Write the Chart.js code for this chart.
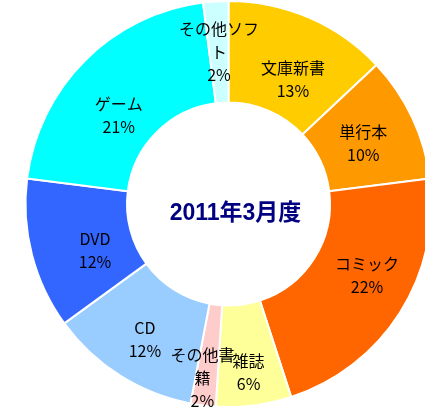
<!DOCTYPE html>
<html><head><meta charset="utf-8">
<script src="https://cdn.jsdelivr.net/npm/chart.js@4"></script>
<style>
html,body{margin:0;padding:0;background:#fff;overflow:hidden;width:425px;height:414px;}
#wrap{position:absolute;left:0;top:0;width:457px;height:408px;}
</style></head>
<body>
<div id="wrap"><canvas id="c" width="457" height="408"></canvas></div>
<script>
const categories = ['文庫新書','単行本','コミック','雑誌','その他書籍','CD','DVD','ゲーム','その他ソフト'];
const labelLines = [['文庫新書'],['単行本'],['コミック'],['雑誌'],['その他書','籍'],['CD'],['DVD'],['ゲーム'],['その他ソフ','ト']];
const shares = [13,10,22,6,2,12,12,21,2];
const colors = ['#FFCC00','#FF9900','#FF6600','#FFFF99','#FFCCCC','#99CCFF','#3366FF','#00FFFF','#CCFFFF'];
const centerTitle = '2011年3月度';

const labelPlugin = {
  id:'sliceLabels',
  afterDatasetsDraw(chart, args, opts){
    const ctx = chart.ctx;
    const meta = chart.getDatasetMeta(0);
    const nudge = opts.nudge || [];
    ctx.save();
    ctx.fillStyle = '#000';
    ctx.textAlign = 'center';
    ctx.textBaseline = 'middle';
    ctx.font = '16px "Noto Sans CJK JP", sans-serif';
    meta.data.forEach((arc,i)=>{
      const p = arc.getProps(['x','y','startAngle','endAngle','innerRadius','outerRadius'],true);
      const mid = (p.startAngle+p.endAngle)/2;
      const r = (p.innerRadius+p.outerRadius)/2;
      const n = nudge[i] || [0,0];
      const cx = p.x + Math.cos(mid)*r + n[0];
      const cy = p.y + Math.sin(mid)*r + n[1];
      const lines = labelLines[i].concat([shares[i]+'%']);
      const lh = 23;
      const top = cy - (lines.length-1)*lh/2;
      lines.forEach((t,k)=>ctx.fillText(t,cx,top+k*lh));
    });
    const a = meta.data[0];
    ctx.fillStyle = '#000080';
    ctx.font = 'bold 23px "Liberation Sans", "Noto Sans CJK JP", sans-serif';
    ctx.fillText(centerTitle, a.x+7, a.y+10);
    ctx.restore();
  }
};

new Chart(document.getElementById('c'),{
  type:'doughnut',
  data:{labels:categories,datasets:[{data:shares,backgroundColor:colors,borderColor:'#ffffff',borderWidth:2}]},
  options:{
    responsive:false,animation:false,cutout:'50%',
    layout:{padding:0},
    plugins:{
      legend:{display:false},tooltip:{enabled:false},title:{display:false},
      sliceLabels:{nudge:[[4,15],[-3,4],[10,-10],[1,17],[-7,23],[-2,7],[14,9],[-2,19],[0,0]]}
    }
  },
  plugins:[labelPlugin]
});
</script>
</body></html>
